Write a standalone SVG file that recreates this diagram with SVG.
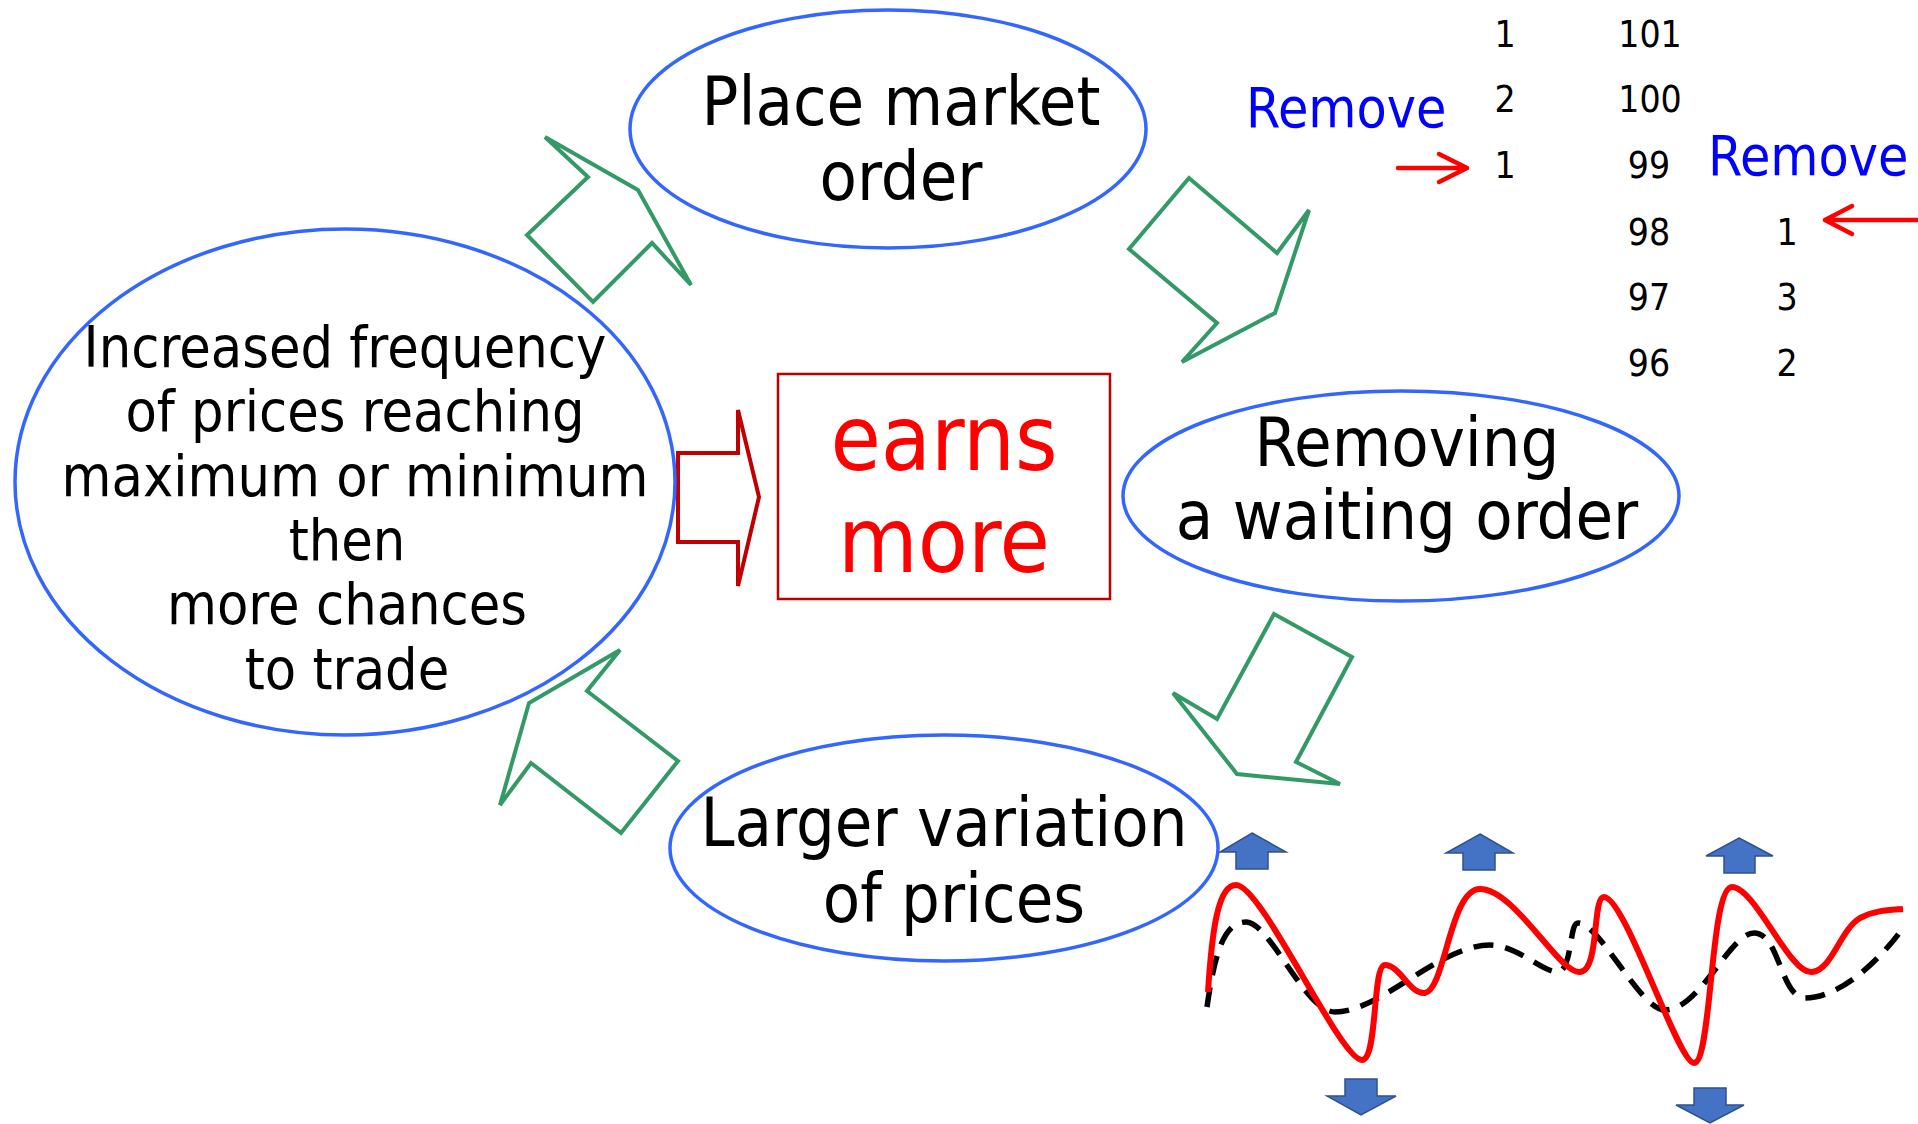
<svg xmlns="http://www.w3.org/2000/svg" width="1918" height="1124" viewBox="0 0 1918 1124">
<style>
text{font-family:"DejaVu Sans Condensed","DejaVu Sans",Verdana,sans-serif;}
.ell{fill:#fff;stroke:#3366FF;stroke-width:3.5;}
.lbl{font-size:68px;fill:#000;text-anchor:middle;}
.lft{font-size:57px;fill:#000;text-anchor:middle;}
.num{font-size:37px;fill:#000;text-anchor:middle;}
.rem{font-size:55px;fill:#0000FF;}
.garr{fill:#fff;stroke:#339966;stroke-width:4;stroke-linejoin:miter;}
.rarr{fill:none;stroke:#FF0000;stroke-width:4.5;stroke-linecap:round;stroke-linejoin:round;}
.barr{fill:#4472C4;stroke:#2F528F;stroke-width:1.5;}
</style>
<rect width="1918" height="1124" fill="#fff"/>

<g id="connectors">
<polygon class="garr" points="545,137 638,190 691,285 652,243 593,302 527,235 588,177"/>
<polygon class="garr" points="1189,178 1129,249 1217,323 1182,362 1275,313 1309,210 1277,253"/>
<polygon class="garr" points="1274,614 1352,657 1296,762 1340,784 1237,774 1173,693 1217,719"/>
<polygon class="garr" points="620,650 587,691 678,761 621,833 531,763 500,805 529,703"/>
<polygon points="678,453 738,453 738,410 759,497 738,586 738,542 678,542" fill="#fff" stroke="#C00000" stroke-width="4"/>
</g>

<g id="node-market">
<ellipse class="ell" cx="888" cy="129" rx="258" ry="119"/>
<text class="lbl"><tspan x="901" y="125">Place market</tspan><tspan x="901" y="200">order</tspan></text>
</g>

<g id="node-frequency">
<ellipse class="ell" cx="345" cy="482" rx="330" ry="253"/>
<text class="lft"><tspan x="345" y="367">Increased frequency</tspan><tspan x="355" y="431">of prices reaching</tspan><tspan x="355" y="496">maximum or minimum</tspan><tspan x="347" y="560">then</tspan><tspan x="347" y="624">more chances</tspan><tspan x="347" y="689">to trade</tspan></text>
</g>

<g id="node-earns">
<rect x="778" y="374" width="332" height="225" fill="#fff" stroke="#C00000" stroke-width="2.5"/>
<text font-size="91" fill="#FF0000" text-anchor="middle"><tspan x="944" y="470">earns</tspan><tspan x="944" y="572">more</tspan></text>
</g>

<g id="node-removing">
<ellipse class="ell" cx="1401" cy="496" rx="278" ry="105"/>
<text class="lbl"><tspan x="1407" y="466">Removing</tspan><tspan x="1407" y="539">a waiting order</tspan></text>
</g>

<g id="node-variation">
<ellipse class="ell" cx="944" cy="848" rx="274" ry="113"/>
<text class="lbl"><tspan x="944" y="846">Larger variation</tspan><tspan x="954" y="922">of prices</tspan></text>
</g>

<g id="order-book">
<text class="rem" x="1246" y="127">Remove</text>
<text class="rem" x="1708" y="175">Remove</text>
<text class="num" x="1505" y="47">1</text>
<text class="num" x="1505" y="112">2</text>
<text class="num" x="1505" y="178">1</text>
<text class="num" x="1650" y="47">101</text>
<text class="num" x="1650" y="112">100</text>
<text class="num" x="1649" y="178">99</text>
<text class="num" x="1649" y="245">98</text>
<text class="num" x="1649" y="310">97</text>
<text class="num" x="1649" y="376">96</text>
<text class="num" x="1787" y="245">1</text>
<text class="num" x="1787" y="310">3</text>
<text class="num" x="1787" y="376">2</text>
<path class="rarr" d="M1398,168 H1467 M1439,154 L1467,168 L1439,182"/>
<path class="rarr" d="M1917,220 H1825 M1852,206 L1825,220 L1852,234"/>
</g>

<g id="price-chart">
<path d="M1207,1007 C1215,950 1225,922 1246,922 C1270,922 1305,1012 1335,1012 C1380,1012 1440,945 1490,945 C1520,945 1550,980 1562,970 C1572,960 1570,923 1578,923 C1600,923 1640,1010 1665,1010 C1700,1010 1730,933 1754,933 C1780,933 1780,997 1805,998 C1840,998 1880,960 1903,928" fill="none" stroke="#000" stroke-width="5.5" stroke-dasharray="20,12"/>
<path d="M1208,992 C1212,930 1218,885 1236,885 C1262,885 1340,1060 1362,1060 C1378,1060 1372,965 1385,965 C1400,965 1410,995 1425,993 C1445,990 1450,889 1480,889 C1515,889 1560,975 1580,972 C1600,970 1592,897 1604,897 C1625,897 1678,1063 1694,1063 C1712,1063 1710,887 1732,887 C1755,887 1790,975 1812,972 C1832,970 1840,930 1860,918 C1875,910 1890,910 1903,909" fill="none" stroke="#FF0000" stroke-width="6"/>
<polygon class="barr" points="1252,833 1286,852 1268,852 1268,869 1236,869 1236,852 1220,852"/>
<polygon class="barr" points="1480,834 1513,853 1495,853 1495,870 1463,870 1463,853 1446,853"/>
<polygon class="barr" points="1739,838 1773,856 1755,856 1755,873 1724,873 1724,856 1706,856"/>
<polygon class="barr" points="1345,1079 1377,1079 1377,1096 1396,1096 1361,1115 1327,1096 1345,1096"/>
<polygon class="barr" points="1694,1088 1726,1088 1726,1105 1744,1105 1710,1123 1676,1105 1694,1105"/>
</g>
</svg>
